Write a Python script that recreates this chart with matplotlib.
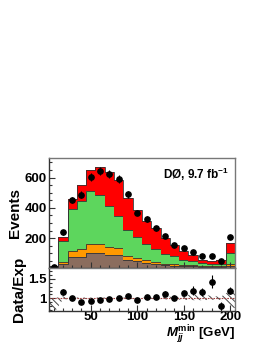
import numpy as np
import matplotlib
matplotlib.use("Agg")
import matplotlib.pyplot as plt
from matplotlib.ticker import MultipleLocator

plt.rcParams['font.family'] = ['Liberation Sans', 'DejaVu Sans']
plt.rcParams['font.weight'] = 'bold'
plt.rcParams['mathtext.fontset'] = 'custom'
plt.rcParams['mathtext.it'] = 'Liberation Sans:bold:italic'
plt.rcParams['mathtext.rm'] = 'Liberation Sans:bold'
plt.rcParams['hatch.color'] = '#444444'
plt.rcParams['hatch.linewidth'] = 0.7

# bin edges (GeV)
edges = np.arange(5, 206, 10)
centers = 0.5 * (edges[:-1] + edges[1:])

# stacked expectation, per component (events)
bkg_brown = [10, 26, 73, 77, 101, 101, 88, 88, 55, 46, 35, 31, 20, 17, 13, 13, 11, 11, 11, 17]
bkg_orange = [2, 15, 41, 50, 59, 59, 53, 48, 27, 24, 17, 13, 11, 9, 7, 7, 6, 6, 5, 14]
bkg_green = [2, 142, 277, 319, 348, 328, 274, 213, 173, 136, 108, 86, 63, 53, 37, 28, 18, 14, 15, 68]
bkg_red = [2, 21, 65, 104, 141, 180, 225, 236, 208, 180, 150, 136, 106, 77, 59, 42, 22, 19, 21, 68]

data = [12, 237, 453, 488, 603, 644, 624, 591, 490, 369, 325, 266, 215, 156, 132, 105, 79, 79, 46, 207]
data_err = [4, 15, 21, 22, 25, 25, 25, 24, 22, 19, 18, 16, 15, 12, 11, 10, 9, 9, 7, 14]

ratio = [np.nan, 1.155, 1.0, 0.9, 0.92, 0.96, 0.98, 1.015, 1.07, 0.955, 1.025, 1.025,
         1.12, 1.01, 1.13, 1.2, 1.155, 1.43, 0.8, 1.2]
ratio_err = [0, 0.08, 0.04, 0.04, 0.035, 0.035, 0.035, 0.035, 0.04, 0.045, 0.05, 0.05,
             0.065, 0.06, 0.07, 0.12, 0.1, 0.17, 0.1, 0.09]
band_lo = [0.6, 0.97, 0.98, 0.98, 0.98, 0.98, 0.98, 0.98, 0.98, 0.98, 0.98, 0.98,
           0.97, 0.97, 0.96, 0.95, 0.95, 0.96, 0.96, 0.75]
band_hi = [1.0, 1.05, 1.02, 1.02, 1.02, 1.02, 1.02, 1.02, 1.02, 1.02, 1.02, 1.02,
           1.04, 1.04, 1.08, 1.1, 1.1, 1.06, 1.04, 1.2]

colors = ['#8b6d5e', '#ff9900', '#5dd65d', '#ff0000']
components = [bkg_brown, bkg_orange, bkg_green, bkg_red]

fig = plt.figure(figsize=(2.66, 3.44), dpi=100)
ax = fig.add_axes([0.184, 0.22, 0.699, 0.321])
axr = fig.add_axes([0.184, 0.097, 0.699, 0.123], sharex=ax)

base = np.zeros(len(centers))
for vals, c in zip(components, colors):
    top = base + np.array(vals)
    ax.stairs(top, edges, baseline=base, fill=True, color=c, lw=0)
    ax.stairs(top, edges, baseline=None, color='#333333', lw=0.6)
    base = top

ax.errorbar(centers, data, yerr=data_err, fmt='o', color='black', ms=3.8,
            elinewidth=0.8, capsize=0)

ax.set_xlim(5, 205)
ax.set_ylim(0, 730)
ax.yaxis.set_major_locator(MultipleLocator(200))
ax.yaxis.set_minor_locator(MultipleLocator(50))
ax.set_yticks([200, 400, 600])
ax.tick_params(axis='x', labelbottom=False)
ax.set_ylabel('Events', fontsize=11, fontweight='bold', labelpad=2)
ax.text(0.97, 0.93, 'DØ, 9.7 fb$^{\\mathregular{-1}}$', transform=ax.transAxes,
        ha='right', va='top', fontsize=8.5, fontweight='bold')

# ratio panel
xb = np.concatenate([[edges[0]], centers, [edges[-1]]])
lo = np.concatenate([[band_lo[0]], band_lo, [band_lo[-1]]])
hi = np.concatenate([[band_hi[0]], band_hi, [band_hi[-1]]])
axr.fill_between(xb, lo, hi, facecolor='none', edgecolor='#444444', hatch='\\\\\\\\\\', lw=0)
axr.axhline(1, color='#a04040', lw=0.8, ls=(0, (1.5, 1)))
axr.errorbar(centers, ratio, yerr=ratio_err, fmt='o', color='black', ms=3.8,
             elinewidth=0.8, capsize=0)
axr.set_ylim(0.68, 1.775)
axr.set_yticks([1, 1.5])
axr.set_yticklabels(['1', '1.5'])
axr.yaxis.set_minor_locator(MultipleLocator(0.1))
axr.set_xticks([50, 100, 150, 200])
axr.xaxis.set_minor_locator(MultipleLocator(10))
axr.set_ylabel('Data/Exp', fontsize=11, fontweight='bold', labelpad=2)
axr.set_xlabel('$M_{jj}^{\\rm min}$ [GeV]', fontsize=9.5, fontweight='bold',
               loc='right', labelpad=-0.5)

for a in (ax, axr):
    a.tick_params(which='both', direction='in', labelsize=9.5, width=0.8, color='#333333',
                  top=False, right=False, pad=1.5)
    a.tick_params(which='major', length=4)
    a.tick_params(which='minor', length=2)
    for s in a.spines.values():
        s.set_color('#777777')
        s.set_linewidth(1.0)
    a.spines['left'].set_color('#333333')
    a.spines['bottom'].set_color('#333333')
    for lab in a.get_xticklabels() + a.get_yticklabels():
        lab.set_fontweight('bold')
axr.tick_params(axis='x', pad=0.5)

fig.savefig('out.png', dpi=100)
